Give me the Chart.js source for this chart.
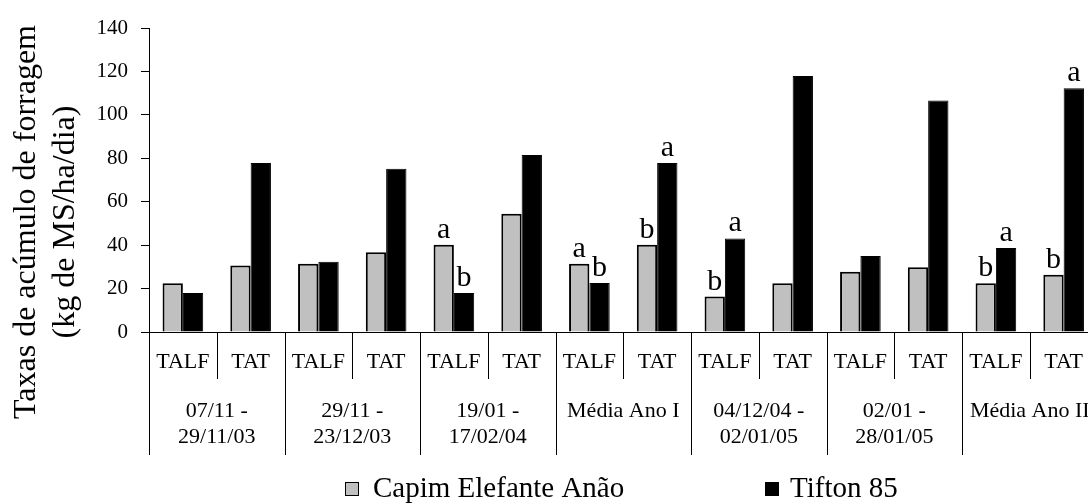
<!DOCTYPE html>
<html>
<head>
<meta charset="utf-8">
<script src="https://cdn.jsdelivr.net/npm/chart.js@4.4.1/dist/chart.umd.min.js"></script>
<style>
  html, body { margin: 0; padding: 0; background: #fff; overflow: hidden; }
  #wrap { width: 1088px; height: 503px; overflow: hidden; }
</style>
</head>
<body>
<div id="wrap"><canvas id="taxasChart" width="1100" height="503"></canvas></div>
<script>
// Data
const categories = ['TALF', 'TAT', 'TALF', 'TAT', 'TALF', 'TAT', 'TALF', 'TAT',
                    'TALF', 'TAT', 'TALF', 'TAT', 'TALF', 'TAT'];
const periods = [
    ['07/11 -', '29/11/03'],
    ['29/11 -', '23/12/03'],
    ['19/01 -', '17/02/04'],
    ['Média Ano I'],
    ['04/12/04 -', '02/01/05'],
    ['02/01 -', '28/01/05'],
    ['Média Ano II']
];
const capimValues = [22.4, 30.6, 31.4, 36.7, 40.2, 54.5, 31.4, 40.2, 16.3, 22.4, 27.8, 29.8, 22.4, 26.4];
const tiftonValues = [18.0, 77.8, 32.3, 75.2, 18.0, 81.5, 22.6, 77.8, 43.1, 117.9, 35.0, 106.6, 38.7, 112.3];
const capimLetters = ['', '', '', '', 'a', '', 'a', 'b', 'b', '', '', '', 'b', 'b'];
const tiftonLetters = ['', '', '', '', 'b', '', 'b', 'a', 'a', '', '', '', 'a', 'a'];
const yTicks = [0, 20, 40, 60, 80, 100, 120, 140];
const yTitle = ['Taxas de acúmulo de forragem', '(kg de MS/ha/dia)'];

const serif = "'Liberation Serif', 'Times New Roman', serif";
Chart.defaults.font.family = serif;
Chart.defaults.color = '#000';

// Letters above the bars
const letterPlugin = {
    id: 'letterPlugin',
    afterDatasetsDraw(chart) {
        const ctx = chart.ctx;
        const sets = [capimLetters, tiftonLetters];
        ctx.save();
        ctx.font = '30px ' + serif;
        ctx.fillStyle = '#000';
        ctx.textAlign = 'center';
        ctx.textBaseline = 'alphabetic';
        sets.forEach((letters, d) => {
            const meta = chart.getDatasetMeta(d);
            letters.forEach((l, i) => {
                if (!l) return;
                const el = meta.data[i];
                ctx.fillText(l, el.x, el.y - 7);
            });
        });
        ctx.restore();
    }
};

// Period labels, divider lines, y title and legend
const extrasPlugin = {
    id: 'extrasPlugin',
    afterDraw(chart) {
        const ctx = chart.ctx;
        const x = chart.scales.x;
        const area = chart.chartArea;
        const catW = x.getPixelForValue(1) - x.getPixelForValue(0);
        ctx.save();
        ctx.strokeStyle = '#000';
        ctx.lineWidth = 1;
        for (let i = 0; i <= categories.length; i++) {
            const bx = Math.round(x.getPixelForValue(i) - catW / 2) + 0.5;
            const end = (i % 2 === 0) ? 455 : 379;
            ctx.beginPath();
            ctx.moveTo(bx, area.bottom);
            ctx.lineTo(bx, end);
            ctx.stroke();
        }

        ctx.font = '22px ' + serif;
        ctx.fillStyle = '#000';
        ctx.textAlign = 'center';
        ctx.textBaseline = 'alphabetic';
        periods.forEach((lines, k) => {
            const cx = (x.getPixelForValue(2 * k) + x.getPixelForValue(2 * k + 1)) / 2;
            lines.forEach((t, j) => ctx.fillText(t, cx, 417 + j * 26));
        });

        // y axis title
        ctx.font = '32px ' + serif;
        ctx.save();
        ctx.translate(0, 222);
        ctx.rotate(-Math.PI / 2);
        ctx.textAlign = 'center';
        ctx.fillText(yTitle[0], 0, 35);
        ctx.fillText(yTitle[1], 0, 74);
        ctx.restore();

        // legend
        const items = [[345, 373], [765, 790]];
        ctx.font = '29px ' + serif;
        ctx.textAlign = 'left';
        chart.data.datasets.forEach((ds, d) => {
            const [bx, tx] = items[d];
            ctx.fillStyle = ds.backgroundColor;
            ctx.fillRect(bx, 482, 14, 14);
            ctx.strokeRect(bx + 0.5, 482.5, 13, 13);
            ctx.fillStyle = '#000';
            ctx.fillText(ds.label, tx, 497);
        });
        ctx.restore();
    }
};

const ctx = document.getElementById('taxasChart').getContext('2d');
const taxasChart = new Chart(ctx, {
    type: 'bar',
    data: {
        labels: categories,
        datasets: [{
            label: 'Capim Elefante Anão',
            data: capimValues,
            backgroundColor: '#c0c0c0',
            borderColor: '#000',
            borderWidth: 2,
            categoryPercentage: 0.6,
            barPercentage: 1
        }, {
            label: 'Tifton 85',
            data: tiftonValues,
            backgroundColor: '#000',
            borderColor: '#000',
            borderWidth: 1,
            categoryPercentage: 0.6,
            barPercentage: 1
        }]
    },
    options: {
        responsive: false,
        animation: false,
        layout: { padding: { top: 28, right: 2, left: 0, bottom: 0 } },
        plugins: {
            legend: { display: false },
            tooltip: { enabled: false }
        },
        scales: {
            x: {
                grid: { display: false, drawTicks: false },
                border: { display: true, color: '#000', width: 1 },
                ticks: { font: { size: 22 }, padding: 17, maxRotation: 0, autoSkip: false },
                afterFit(scale) { scale.height = 171; }
            },
            y: {
                min: 0,
                max: 140,
                afterBuildTicks(scale) { scale.ticks = yTicks.map(v => ({ value: v })); },
                grid: { drawOnChartArea: false, drawTicks: true, tickLength: 8, color: '#000' },
                border: { display: true, color: '#000', width: 1 },
                ticks: { font: { size: 21 }, padding: 13 },
                afterFit(scale) { scale.width = 149; }
            }
        }
    },
    plugins: [letterPlugin, extrasPlugin]
});
</script>
</body>
</html>
